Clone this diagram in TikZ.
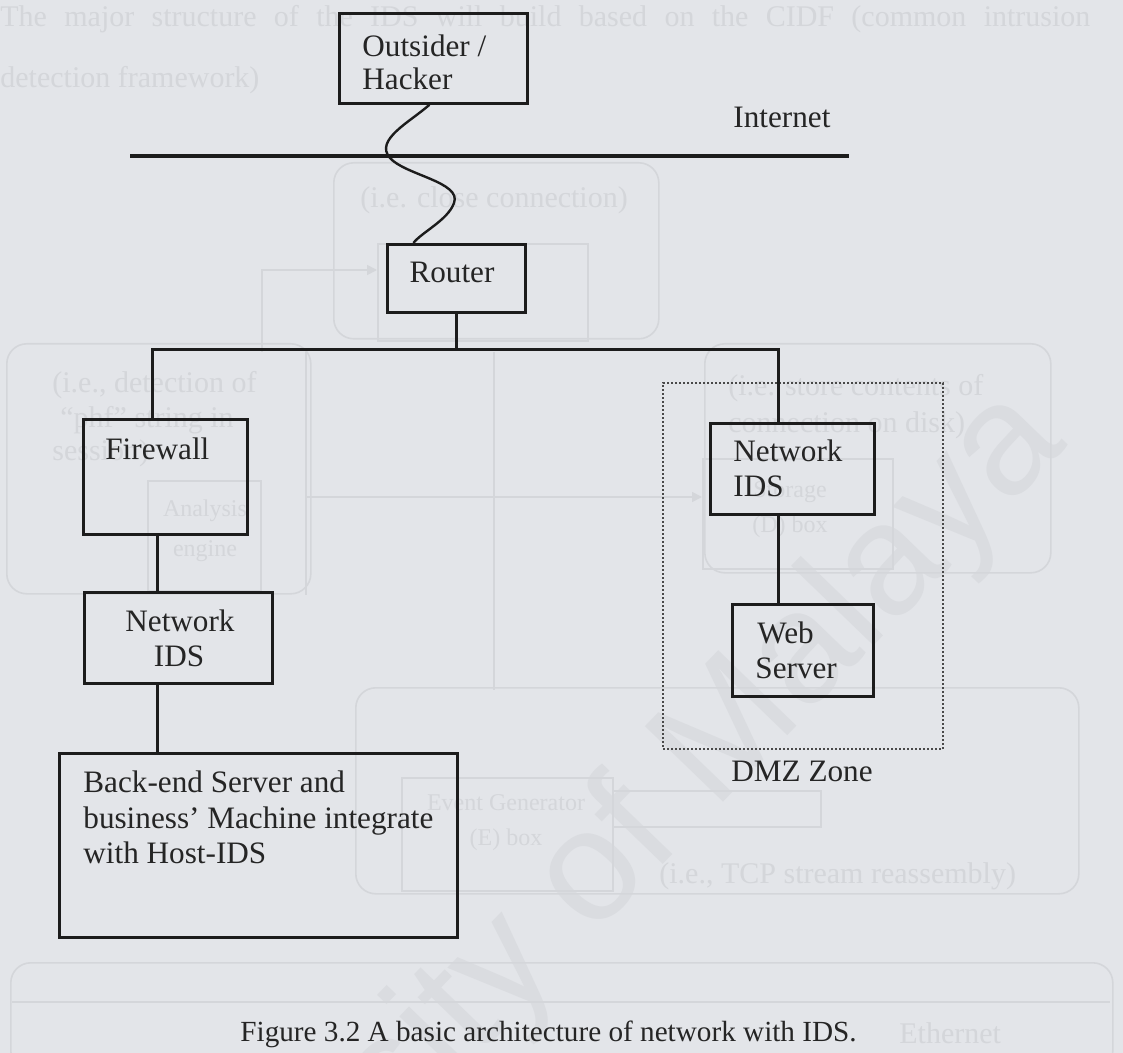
\documentclass[tikz,border=0pt]{standalone}
\usepackage{fontspec}
\setmainfont{Liberation Serif}
\newfontfamily\wmfont{Liberation Sans}
\usetikzlibrary{calc,arrows.meta}

\definecolor{paper}{HTML}{E3E5E9}
\definecolor{ink}{HTML}{1C1C1C}
\definecolor{inktext}{HTML}{252525}
\definecolor{ghost}{HTML}{D4D6DA}
\definecolor{wmark}{HTML}{DADCE0}

\tikzset{
  box/.style={draw=ink, line width=1.4pt, inner sep=0pt, anchor=north west},
  zone/.style={draw=ink!80, line width=1pt, densely dotted, inner sep=0pt, anchor=north west},
  wire/.style={draw=ink, line width=1.5pt},
  netline/.style={draw=ink, line width=2pt},
  label/.style={text=inktext, inner sep=0pt, anchor=base west,
                font=\fontsize{15.6}{17}\selectfont},
  caption/.style={text=inktext, inner sep=0pt, anchor=base west,
                  font=\fontsize{14.6}{16}\selectfont},
  % faint show-through from the other side of the sheet
  ghostbox/.style={draw=ghost, line width=0.8pt, rounded corners=10pt, inner sep=0pt, anchor=north west},
  ghostrect/.style={draw=ghost, line width=0.8pt, inner sep=0pt, anchor=north west},
  ghostline/.style={draw=ghost, line width=0.8pt},
  ghosttext/.style={text=ghost, inner sep=0pt, anchor=base west,
                    font=\fontsize{15}{17}\selectfont},
  ghostsmall/.style={text=ghost, inner sep=0pt, anchor=base,
                     font=\fontsize{12}{14}\selectfont},
}

% rectangle spanning pixel corners (x1,y1)-(x2,y2)
\newcommand{\pbox}[6]{%
  \node[#1, minimum width={(#5-#3)*0.5pt}, minimum height={(#6-#4)*0.5pt}] (#2) at (#3,#4) {};}

\begin{document}
\begin{tikzpicture}[x=0.5pt, y=-0.5pt]
  % page
  \fill[paper] (0,0) rectangle (1123,1053);
  \useasboundingbox (0,0) rectangle (1123,1053);

  % ---------- faint show-through and watermark ----------
  \node[text=wmark, inner sep=0pt, rotate=46, font=\wmfont\fontsize{79}{80}\selectfont]
    (wm) at (545,928) {University of Malaya};

  \node[ghosttext] (g-p1) at (0,27)
    {\makebox[545pt][s]{The major structure of the IDS will build based on the CIDF (common intrusion}};
  \node[ghosttext] (g-p2) at (0,88) {detection framework)};

  \pbox{ghostbox}{gA}{333}{162}{658}{338}
  \node[ghosttext] (g-a) at (360,208) {(i.e. close connection)};
  \pbox{ghostrect}{gAin}{377}{243}{587}{340}
  \coordinate (gA1) at (262,352);
  \coordinate (gA2) at (262,270);
  \draw[ghostline, -{Triangle[length=5pt,width=5pt]}] (gA1) -- (gA2) -- (gAin.west |- gA2);

  \pbox{ghostbox}{gB}{6}{343}{310}{593}
  \node[ghosttext] (g-b1) at (52,393) {(i.e., detection of};
  \node[ghosttext] (g-b2) at (60,427) {“phf” string in};
  \node[ghosttext] (g-b3) at (52,460) {session)};
  \pbox{ghostrect}{gBin}{147}{480}{260}{590}
  \node[ghostsmall] (g-b4) at (205,516) {Analysis};
  \node[ghostsmall] (g-b5) at (205,556) {engine};

  \pbox{ghostbox}{gC}{704}{343}{1050}{572}
  \node[ghosttext] (g-c1) at (728,395) {(i.e. store contents of};
  \node[ghosttext] (g-c2) at (728,432) {connection on disk)};
  \pbox{ghostrect}{gCin}{702}{458}{892}{568}
  \node[ghostsmall] (g-c3) at (790,497) {Storage};
  \node[ghostsmall] (g-c4) at (790,532) {(D) box};
  \coordinate (gC1) at (306,497);
  \draw[ghostline, -{Triangle[length=5pt,width=5pt]}] (gC1) -- (gCin.west |- gC1);
  \coordinate (gV1) at (306,352);
  \coordinate (gV2) at (494,352);
  \coordinate (gV3) at (494,690);
  \draw[ghostline] (gV1) -- (gC1 |- gB.south);
  \draw[ghostline] (gV2) -- (gV3);

  \pbox{ghostbox}{gD}{355}{687}{1078}{893}
  \pbox{ghostrect}{gDin}{401}{777}{612}{890}
  \node[ghostsmall] (g-d1) at (506,810) {Event Generator};
  \node[ghostsmall] (g-d2) at (506,845) {(E) box};
  \pbox{ghostrect}{gDin2}{612}{790}{820}{826}
  \node[ghosttext] (g-d3) at (659,883) {(i.e., TCP stream reassembly)};

  \pbox{ghostbox}{gE}{10}{962}{1112}{1070}
  \coordinate (gE1) at (12,1002);
  \coordinate (gE2) at (1110,1002);
  \draw[ghostline] (gE1) -- (gE2);
  \node[ghosttext] (g-e1) at (899,1043) {Ethernet};

  % ---------- diagram ----------
  % boxes
  \pbox{box}{hack}{338}{12}{526}{102}
  \pbox{box}{rt}{386}{243}{524}{311}
  \pbox{box}{fw}{82}{418}{246}{533}
  \pbox{box}{nidsL}{83}{591}{271}{682}
  \pbox{box}{back}{58}{752}{456}{936}
  \pbox{zone}{dmz}{662}{382}{942}{748}
  \pbox{box}{nidsR}{709}{422}{873}{513}
  \pbox{box}{web}{731}{603}{872}{695}

  % box texts
  \node[label] (t-out1) at (362,57) {Outsider /};
  \node[label] (t-out2) at (362,90) {Hacker};
  \node[label] (t-inet) at (733,128) {Internet};
  \node[label, anchor=base] (t-rt) at (452,283) {Router};
  \node[label] (t-fw) at (105,459) {Firewall};
  \node[label, anchor=base] (t-nl1) at (180,631) {Network};
  \node[label, anchor=base] (t-nl2) at (179,666) {IDS};
  \node[label] (t-b1) at (83,792) {Back-end Server and};
  \node[label] (t-b2) at (83,828) {business’ Machine integrate};
  \node[label] (t-b3) at (83,863) {with Host-IDS};
  \node[label] (t-nr1) at (733,461) {Network};
  \node[label] (t-nr2) at (733,496) {IDS};
  \node[label] (t-w1) at (757,643) {Web};
  \node[label] (t-w2) at (755,678) {Server};
  \node[label] (t-dmz) at (731,781) {DMZ Zone};
  \node[caption] (cap) at (240,1041) {Figure 3.2 A basic architecture of network with IDS.};

  % internet backbone
  \coordinate (inetW) at (130,156);
  \coordinate (inetE) at (849,156);
  \draw[netline] (inetW) -- (inetE);

  % outsider to router through the internet
  \draw[wire, line width=1.2pt]
    ($(hack.south)+(-4,0)$)
      .. controls (410,122) and (374,140) .. (390,158)
      .. controls (405,175) and (462,182) .. (454,203)
      .. controls (448,220) and (422,232) .. ($(rt.north)+(-43,0)$);

  % internal bus
  \coordinate (busL) at (152,350);
  \coordinate (busR) at (778,350);
  \coordinate (colL) at (157,0);
  \draw[wire] (rt.south) -- (rt.south |- busL);
  \draw[wire] (fw.north -| busL) -- (busL) -- (busR) -- (nidsR.north -| busR);
  \draw[wire] (fw.south -| colL) -- (nidsL.north -| colL);
  \draw[wire] (nidsL.south -| colL) -- (back.north -| colL);
  \draw[wire] (nidsR.south -| busR) -- (web.north -| busR);
\end{tikzpicture}
\end{document}
